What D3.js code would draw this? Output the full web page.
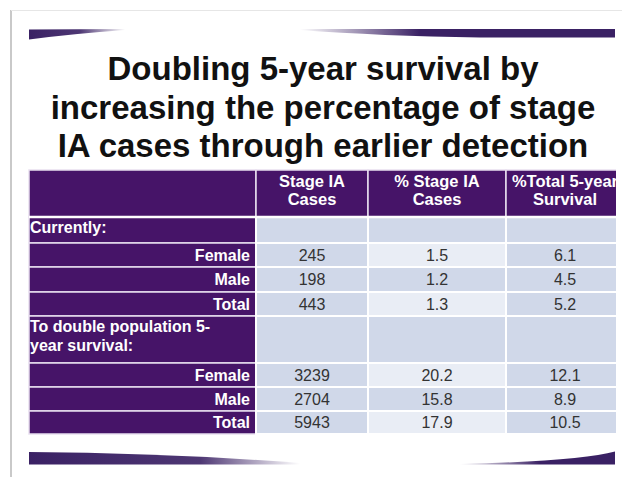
<!DOCTYPE html>
<html>
<head>
<meta charset="utf-8">
<script src="https://cdn.jsdelivr.net/npm/d3@7"></script>
<style>
  html, body { margin: 0; padding: 0; background: #fff; }
  svg { display: block; font-family: "Liberation Sans", Arial, sans-serif; }
</style>
</head>
<body>
<div id="chart"></div>
<script>
// title
const titleLines = [
    "Doubling 5-year survival by",
    "increasing the percentage of stage",
    "IA cases through earlier detection"
];

// table
const headers = [["", ""], ["Stage IA", "Cases"], ["% Stage IA", "Cases"], ["%Total 5-year", "Survival"]];
const rowLabels = [
    ["Currently:"], ["Female"], ["Male"], ["Total"],
    ["To double population 5-", "year survival:"], ["Female"], ["Male"], ["Total"]
];
const stageCases = [null, 245, 198, 443, null, 3239, 2704, 5943];
const pctStage = [null, 1.5, 1.2, 1.3, null, 20.2, 15.8, 17.9];
const pctSurvival = [null, 6.1, 4.5, 5.2, null, 12.1, 8.9, 10.5];

const W = 622, H = 477;
const purple = "#461468";
const dark = "#d0d8e9", light = "#e9edf5";

const svg = d3.select("#chart").append("svg")
    .attr("width", W)
    .attr("height", H);

const defs = svg.append("defs");

// slide frame shadow
svg.append("line").attr("x1", 11).attr("x2", 11).attr("y1", 10).attr("y2", H)
    .attr("stroke", "#c9c9c9").attr("stroke-width", 2);
svg.append("line").attr("x1", 11).attr("x2", W).attr("y1", 10.5).attr("y2", 10.5)
    .attr("stroke", "#e6e6e6").attr("stroke-width", 1);

// swooshes
function grad(id, stops) {
    const g = defs.append("linearGradient").attr("id", id)
        .attr("gradientUnits", "userSpaceOnUse")
        .attr("x1", stops[0][0]).attr("x2", stops[stops.length - 1][0])
        .attr("y1", 0).attr("y2", 0);
    stops.forEach(([x, o]) => g.append("stop")
        .attr("offset", (x - stops[0][0]) / (stops[stops.length - 1][0] - stops[0][0]))
        .attr("stop-color", "#3a2164").attr("stop-opacity", o));
}
grad("gTopL", [[29, 1], [80, 0.9], [125, 0]]);
grad("gTopR", [[300, 0], [420, 1], [615, 1]]);
grad("gBotL", [[29, 1], [200, 0.9], [300, 0]]);
grad("gBotR", [[460, 0], [540, 1], [615, 1]]);

svg.append("path").attr("d", "M29,29.5 L125,29 L125,30 Q70,34 29,39.5 Z").attr("fill", "url(#gTopL)");
svg.append("path").attr("d", "M300,29 L615,29 L615,37.5 L480,37.5 Q380,36 300,30 Z").attr("fill", "url(#gTopR)");
svg.append("path").attr("d", "M29,452 Q170,453 300,463 L300,464.5 L29,464.5 Z").attr("fill", "url(#gBotL)");
svg.append("path").attr("d", "M460,464 Q580,461 615,451.5 L615,464.5 L460,464.5 Z").attr("fill", "url(#gBotR)");

// title
svg.append("g").attr("class", "title")
    .selectAll("text")
    .data(titleLines)
    .join("text")
    .attr("x", 323)
    .attr("y", (d, i) => 80 + i * 38.5)
    .attr("text-anchor", "middle")
    .attr("font-size", 33)
    .attr("font-weight", "bold")
    .attr("fill", "#111")
    .text(d => d);

// table layout
const colEdges = [29, 256, 368, 506, 624];
const clipRight = 616;
const rowHeights = [47, 26, 24, 25, 24, 47, 24, 24, 23];
const rowEdges = [170];
rowHeights.forEach(h => rowEdges.push(rowEdges[rowEdges.length - 1] + h));

const x = i => colEdges[i];
const cx = i => (colEdges[i] + colEdges[i + 1]) / 2;
const y = i => rowEdges[i];

defs.append("clipPath").attr("id", "tclip")
    .append("rect").attr("x", 0).attr("y", 0).attr("width", clipRight).attr("height", H);

const table = svg.append("g").attr("clip-path", "url(#tclip)");

const rows = rowLabels.map((label, i) => ({
    label, i,
    section: label[label.length - 1].endsWith(":"),
    values: [stageCases[i], pctStage[i], pctSurvival[i]]
}));

// header
const head = table.append("g").attr("class", "header");
head.selectAll("rect")
    .data(headers)
    .join("rect")
    .attr("x", (d, i) => x(i))
    .attr("y", y(0))
    .attr("width", (d, i) => x(i + 1) - x(i))
    .attr("height", rowHeights[0])
    .attr("fill", purple)
    .attr("stroke", "#e9e0f0")
    .attr("stroke-width", 1.5);
head.selectAll("text")
    .data(headers)
    .join("text")
    .attr("x", (d, i) => cx(i))
    .attr("y", y(0) + 17)
    .attr("text-anchor", "middle")
    .attr("font-size", 16.5)
    .attr("font-weight", "bold")
    .attr("fill", "#fff")
    .selectAll("tspan")
    .data(d => d)
    .join("tspan")
    .attr("x", function () { return d3.select(this.parentNode).attr("x"); })
    .attr("dy", (d, j) => j === 0 ? 0 : 18)
    .text(d => d);

// body
const body = table.append("g").attr("class", "body");
const row = body.selectAll("g.row")
    .data(rows)
    .join("g")
    .attr("class", "row");

row.append("rect")
    .attr("x", x(0))
    .attr("y", d => y(d.i + 1))
    .attr("width", x(1) - x(0))
    .attr("height", d => rowHeights[d.i + 1])
    .attr("fill", purple)
    .attr("stroke", "#e9e0f0")
    .attr("stroke-width", 1.5);

row.append("text")
    .attr("x", d => d.section ? x(0) + 1 : x(1) - 6)
    .attr("y", d => d.section ? y(d.i + 1) + 16 : y(d.i + 1) + rowHeights[d.i + 1] / 2 + 5.5)
    .attr("text-anchor", d => d.section ? "start" : "end")
    .attr("font-size", 16)
    .attr("font-weight", "bold")
    .attr("fill", "#fff")
    .selectAll("tspan")
    .data(d => d.label.map(t => ({ t, d })))
    .join("tspan")
    .attr("x", e => e.d.section ? x(0) + 1 : x(1) - 6)
    .attr("dy", (e, j) => j === 0 ? 0 : 19)
    .text(e => e.t);

row.selectAll("rect.cell")
    .data(d => d.values.map((v, k) => ({ v, k, i: d.i, section: d.section })))
    .join("rect")
    .attr("class", "cell")
    .attr("x", e => x(e.k + 1))
    .attr("y", e => y(e.i + 1))
    .attr("width", e => x(e.k + 2) - x(e.k + 1))
    .attr("height", e => rowHeights[e.i + 1])
    .attr("fill", e => (e.k === 1 && !e.section && e.i % 2 === 1) ? light : dark)
    .attr("stroke", "#fff")
    .attr("stroke-width", 2);

row.selectAll("text.val")
    .data(d => d.values.map((v, k) => ({ v, k, i: d.i })).filter(e => e.v !== null))
    .join("text")
    .attr("class", "val")
    .attr("x", e => cx(e.k + 1))
    .attr("y", e => y(e.i + 1) + rowHeights[e.i + 1] / 2 + 5.5)
    .attr("text-anchor", "middle")
    .attr("font-size", 16)
    .attr("fill", "#333")
    .text(e => e.k === 0 ? e.v : d3.format(".1f")(e.v));

// header/body separator
table.append("line")
    .attr("x1", x(0)).attr("x2", clipRight)
    .attr("y1", y(1)).attr("y2", y(1))
    .attr("stroke", "#fff").attr("stroke-width", 2.5);
</script>
</body>
</html>
